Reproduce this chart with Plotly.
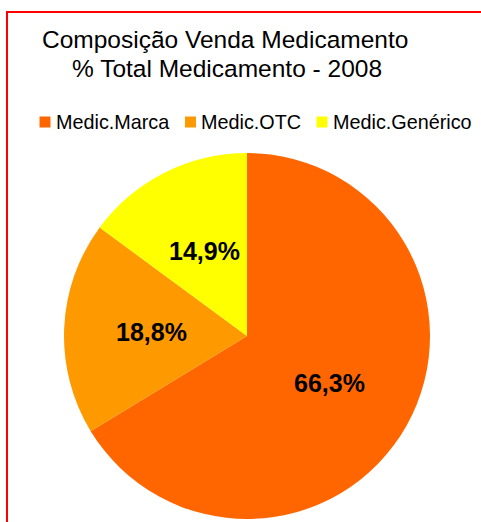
import math
import plotly.graph_objects as go

# Data
categories = ["Medic.Marca", "Medic.OTC", "Medic.Genérico"]
values = [66.3, 18.8, 14.9]
colors = ["#FF6600", "#FF9900", "#FFFF00"]
title_lines = ["Composição Venda Medicamento", "% Total Medicamento - 2008"]

W, H = 481, 522
L, R, T, B = 64, 51, 153, 3
pw, ph = W - L - R, H - T - B


def px(x):
    return (x - L) / pw


def py(y):
    return (H - B - y) / ph


FONT = "Liberation Sans, Arial, sans-serif"

fig = go.Figure(go.Pie(
    labels=categories,
    values=values,
    marker=dict(colors=colors, line=dict(width=0)),
    sort=False,
    direction="clockwise",
    rotation=0,
    textinfo="none",
    showlegend=False,
    hoverinfo="label+percent",
))

annotations = []
shapes = []

# Data labels placed at ~half radius along each slice's bisector (Excel style)
total = sum(values)
cum = 0.0
label_r = 0.52  # fraction of radius
for v in values:
    mid = (cum + v / 2) / total * 2 * math.pi  # clockwise from 12 o'clock
    cum += v
    lx = 0.5 + label_r * 0.5 * math.sin(mid)
    ly = 0.5 + label_r * 0.5 * math.cos(mid)
    txt = f"{v / total * 100:.1f}%".replace(".", ",")
    annotations.append(dict(x=lx, y=ly, xref="paper", yref="paper", text=f"<b>{txt}</b>",
                            showarrow=False, xanchor="center", yanchor="middle",
                            font=dict(family=FONT, size=25, color="black")))

# Title
annotations.append(dict(x=px(225), y=py(39), xref="paper", yref="paper", text=title_lines[0],
                        showarrow=False, xanchor="center", yanchor="middle",
                        font=dict(family=FONT, size=24.5, color="black")))
annotations.append(dict(x=px(227), y=py(68), xref="paper", yref="paper", text=title_lines[1],
                        showarrow=False, xanchor="center", yanchor="middle",
                        font=dict(family=FONT, size=24.5, color="black")))
# Legend (manual, horizontal)
marker_x = [39.5, 185, 316.5]
text_x = [54, 199, 331]
for name, col, mx, tx in zip(categories, colors, marker_x, text_x):
    shapes.append(dict(type="rect", xref="paper", yref="paper",
                       x0=px(mx), x1=px(mx + 11), y0=py(127.5), y1=py(116.5),
                       line=dict(width=0), fillcolor=col))
    annotations.append(dict(x=px(tx), y=py(122), xref="paper", yref="paper",
                            text=name, showarrow=False, xanchor="left", yanchor="middle",
                            font=dict(family=FONT, size=19.8, color="black")))

# Red frame
shapes.append(dict(type="rect", xref="paper", yref="paper",
                   x0=px(7), x1=px(W + 20), y0=py(H + 20), y1=py(12),
                   line=dict(color="#FF0000", width=2), fillcolor="rgba(0,0,0,0)"))

fig.update_layout(
    width=W, height=H,
    margin=dict(l=L, r=R, t=T, b=B),
    paper_bgcolor="white",
    plot_bgcolor="white",
    annotations=annotations,
    shapes=shapes,
)

fig.write_html(
    "out.html",
    config={"displayModeBar": False},
    post_script="document.body.style.margin='0';document.body.style.overflow='hidden';",
)
